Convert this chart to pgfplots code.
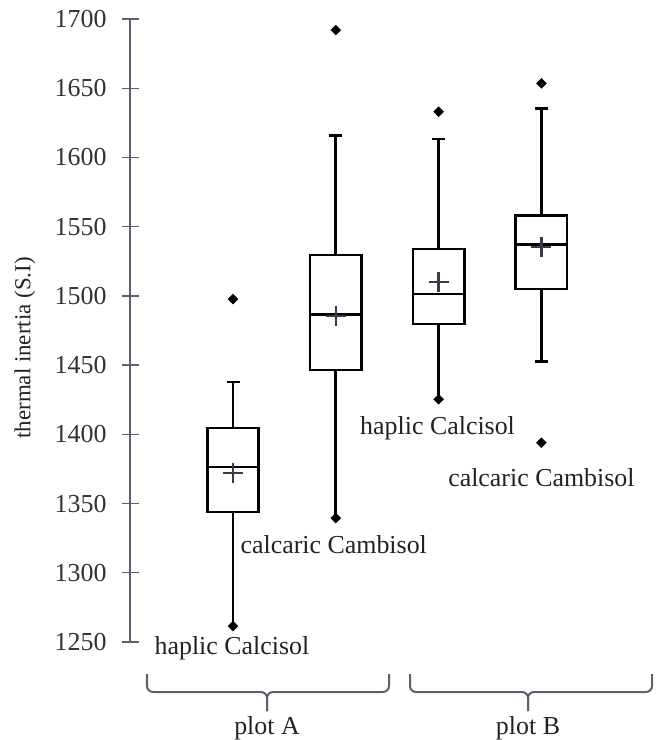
\documentclass[border=0pt]{standalone}
\usepackage{fontspec}
\setmainfont{Liberation Serif}
\usepackage{pgfplots}
\pgfplotsset{compat=1.18}
\definecolor{axgray}{RGB}{92,96,112}
\definecolor{tickgray}{RGB}{50,50,50}
\definecolor{labgray}{RGB}{34,34,34}
\definecolor{meangray}{RGB}{58,58,72}
\newcommand\fs{\fontsize{26}{31}\selectfont}
\newcommand\fy{\fontsize{23}{28}\selectfont}
\begin{document}
\begin{tikzpicture}
\begin{axis}[
  scale only axis, width=524.28bp, height=623bp,
  xmin=0, xmax=5.1, ymin=1250, ymax=1700,
  axis x line=none, axis y line*=left,
  ytick={1250,1300,...,1700},
  tick align=center, major tick length=17bp,
  axis line style={draw=axgray, line width=1.4bp},
  every tick/.style={draw=axgray, line width=1.4bp},
  yticklabel style={font=\fs, text=tickgray, inner sep=0pt, xshift=-15bp},
  /pgf/number format/assume math mode=true,
  /pgf/number format/set thousands separator={},
  clip=false,
  ylabel={thermal inertia (S.I)},
  ylabel style={at={(axis description cs:-0.2007,0.472)}, anchor=center, font=\fy, text=labgray, inner sep=0pt},
  box/.style={draw=black, line width=2.7bp, fill=white},
  ln/.style={draw=black, line width=2.7bp},
]
% whiskers
\addplot[ln] coordinates {(1,1261.4) (1,1437.7)};
\addplot[ln] coordinates {(2,1339.5) (2,1616)};
\addplot[ln] coordinates {(3,1425.4) (3,1613.3)};
\addplot[ln] coordinates {(4,1452.4) (4,1635.5)};
% boxes (lower quartile, upper quartile)
\addplot[box] coordinates {(0.75,1343.8) (1.25,1343.8) (1.25,1404.5) (0.75,1404.5)} -- cycle;
\addplot[box] coordinates {(1.75,1446.4) (2.25,1446.4) (2.25,1529.5) (1.75,1529.5)} -- cycle;
\addplot[box] coordinates {(2.75,1479.6) (3.25,1479.6) (3.25,1533.8) (2.75,1533.8)} -- cycle;
\addplot[box] coordinates {(3.75,1505) (4.25,1505) (4.25,1558) (3.75,1558)} -- cycle;
% medians
\addplot[ln] coordinates {(0.75,1376.3) (1.25,1376.3)};
\addplot[ln] coordinates {(1.75,1486.8) (2.25,1486.8)};
\addplot[ln] coordinates {(2.75,1501.3) (3.25,1501.3)};
\addplot[ln] coordinates {(3.75,1537.2) (4.25,1537.2)};
% whisker caps
\addplot[only marks, mark=-, mark size=6.5bp, mark options={draw=black, line width=2.7bp}] coordinates {(1,1437.7) (2,1616) (3,1613.3) (4,1635.5) (4,1452.4)};
% means
\addplot[only marks, mark=+, mark size=10bp, mark options={draw=meangray, line width=2.4bp}] coordinates {(1,1372.1) (2,1485.5) (3,1510) (4,1535.1)};
% minima / maxima
\addplot[only marks, mark=square*, mark size=3.5bp, mark options={fill=black, draw=black, rotate=45}] coordinates {(1,1497.7) (1,1261.4) (2,1692) (2,1339.5) (3,1633) (3,1425.4) (4,1653.5) (4,1393.9)};
% labels
\node[font=\fs, text=labgray, inner sep=0pt] at (axis cs:0.99,1245.5) {haplic Calcisol};
\node[font=\fs, text=labgray, inner sep=0pt] at (axis cs:1.98,1320) {calcaric Cambisol};
\node[font=\fs, text=labgray, inner sep=0pt] at (axis cs:2.99,1404.5) {haplic Calcisol};
\node[font=\fs, text=labgray, inner sep=0pt] at (axis cs:4.0,1368.4) {calcaric Cambisol};
\coordinate (O) at (axis cs:0,1700);
\end{axis}
\begin{scope}[shift={(O)}, x=1bp, y=-1bp, shift={(-130.2,-19)}]
\path (0,0) rectangle (665,740);
\begin{scope}[draw=axgray, line width=2bp, rounded corners=6bp]
\draw (147,674) -- (147,692) -- (267,692) -- (267,711);
\draw (389,674) -- (389,692) -- (267,692) -- (267,711);
\draw (410,674) -- (410,692) -- (528,692) -- (528,711);
\draw (652,674) -- (652,692) -- (528,692) -- (528,711);
\end{scope}
\node[font=\fs, text=labgray, inner sep=0pt, anchor=base] at (267,734) {plot A};
\node[font=\fs, text=labgray, inner sep=0pt, anchor=base] at (528,734) {plot B};
\end{scope}
\end{tikzpicture}
\end{document}
